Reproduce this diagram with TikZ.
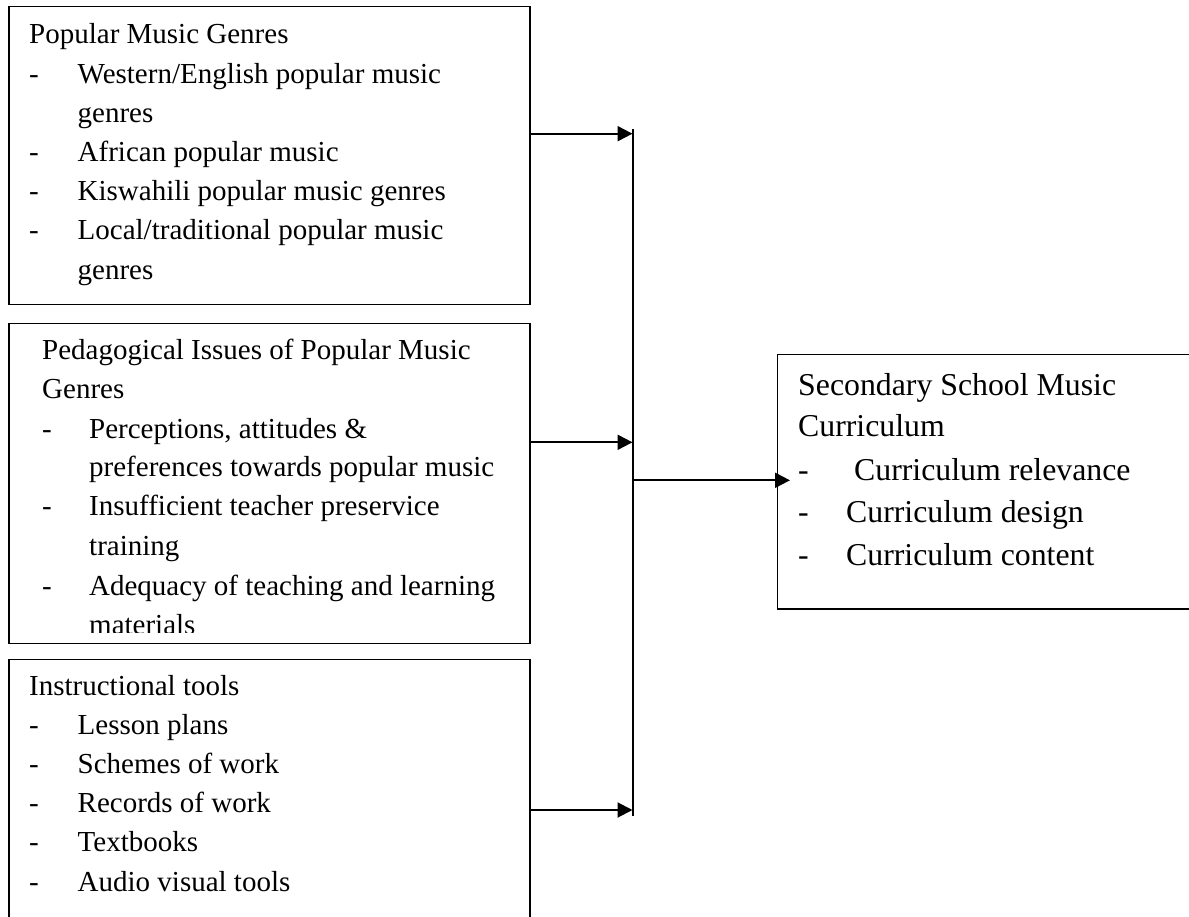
\documentclass[tikz,border=0pt]{standalone}
\usepackage{fontspec}
\setmainfont{Liberation Serif}
\usetikzlibrary{arrows.meta}
\newcommand\dashitem[1]{\makebox[#1][l]{-}}
\begin{document}
\begin{tikzpicture}[x=1pt,y=-1pt,
  box/.style={draw, line width=1.3pt, rectangle, inner sep=0pt, anchor=north west},
  lt/.style={anchor=base west, inner sep=0pt, font=\fontsize{29}{35}\selectfont},
  rt/.style={anchor=base west, inner sep=0pt, font=\fontsize{31.8}{38}\selectfont},
  arr/.style={line width=2pt, -{Triangle[length=15pt,width=15pt]}},
  bus/.style={line width=1.6pt}]
\useasboundingbox (0,0) rectangle (1189,917);
\fill[white] (0,0) rectangle (1189,917);

% boxes
\node[box, minimum width=521pt, minimum height=298.3pt] (b1) at (8.3,5.7) {};
\node[box, minimum width=521pt, minimum height=320pt] (b2) at (8.3,322.7) {};
\node[box, minimum width=521pt, minimum height=300pt] (b3) at (8.3,659) {};
\node[box, minimum width=450pt, minimum height=254.3pt] (out) at (777,354) {};

% box 1 text
\node[lt] (t11) at (29,44) {Popular Music Genres};
\node[lt] (t12) at (29,83.2) {\dashitem{48.5pt}Western/English popular music};
\node[lt] (t13) at (77.5,122.4) {genres};
\node[lt] (t14) at (29,161.6) {\dashitem{48.5pt}African popular music};
\node[lt] (t15) at (29,200.8) {\dashitem{48.5pt}Kiswahili popular music genres};
\node[lt] (t16) at (29,240) {\dashitem{48.5pt}Local/traditional popular music};
\node[lt] (t17) at (77.5,279.2) {genres};

% box 2 text (last line cut off)
\begin{scope}
\clip (8,323) rectangle (530,632.7);
\node[lt] (t21) at (42,359.3) {Pedagogical Issues of Popular Music};
\node[lt] (t22) at (42,398.3) {Genres};
\node[lt] (t23) at (42,438.3) {\dashitem{47pt}Perceptions, attitudes \&};
\node[lt] (t24) at (89,476.7) {preferences towards popular music};
\node[lt] (t25) at (42,515.7) {\dashitem{47pt}Insufficient teacher preservice};
\node[lt] (t26) at (89,555) {training};
\node[lt] (t27) at (42,595) {\dashitem{47pt}Adequacy of teaching and learning};
\node[lt] (t28) at (89,634) {materials};
\end{scope}

% box 3 text
\node[lt] (t31) at (29,695) {Instructional tools};
\node[lt] (t32) at (29,734.2) {\dashitem{48.5pt}Lesson plans};
\node[lt] (t33) at (29,773.4) {\dashitem{48.5pt}Schemes of work};
\node[lt] (t34) at (29,812.6) {\dashitem{48.5pt}Records of work};
\node[lt] (t35) at (29,851.8) {\dashitem{48.5pt}Textbooks};
\node[lt] (t36) at (29,891) {\dashitem{48.5pt}Audio visual tools};

% output box text
\node[rt] (r1) at (798,395) {Secondary School Music};
\node[rt] (r2) at (798,436.5) {Curriculum};
\node[rt] (r3) at (798,480) {\dashitem{56pt}Curriculum relevance};
\node[rt] (r4) at (798,522.7) {\dashitem{48pt}Curriculum design};
\node[rt] (r5) at (798,565.7) {\dashitem{48pt}Curriculum content};

% connectors
\coordinate (bustop) at (633,129);
\coordinate (busbot) at (633,816);
\coordinate (j1) at (632.5,133.7);
\coordinate (j2) at (632.5,442.3);
\coordinate (j3) at (632.5,810);
\coordinate (jout) at (633,480.3);
\coordinate (tipout) at (790,480.3);
\draw[bus] (bustop) -- (busbot);
\draw[arr] (b1.east |- j1) -- (j1);
\draw[arr] (b2.east |- j2) -- (j2);
\draw[arr] (b3.east |- j3) -- (j3);
\draw[arr] (jout) -- (tipout);
\end{tikzpicture}
\end{document}
